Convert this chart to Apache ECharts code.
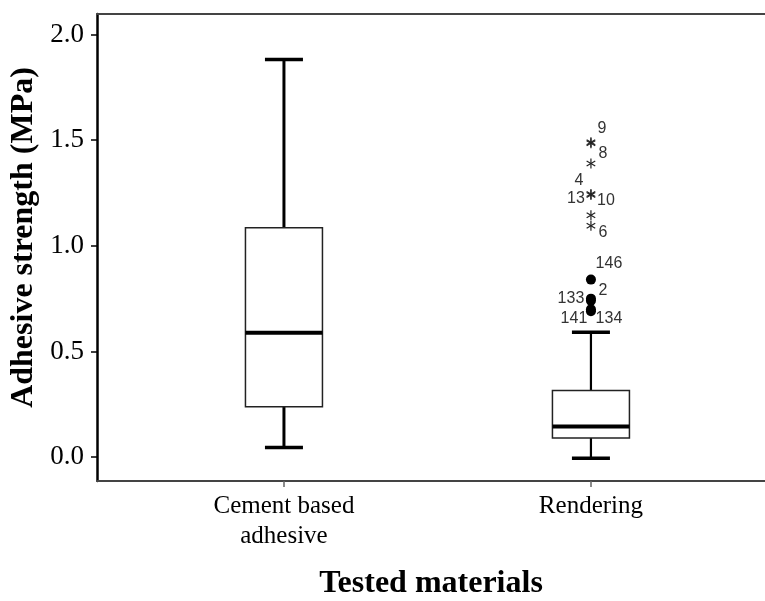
<!DOCTYPE html>
<html>
<head>
<meta charset="utf-8">
<script src="https://cdn.jsdelivr.net/npm/echarts@6.0.0/dist/echarts.min.js"></script>
<style>
  html, body { margin: 0; padding: 0; background: #fff; }
  #chart { width: 765px; height: 601px; }
</style>
</head>
<body>
<div id="chart"></div>
<script>
// categories (x positions 1 and 2 on the value axis)
var categories = ['Cement based\nadhesive', 'Rendering'];

// box statistics per category
var boxMin = [0.045, -0.005];
var boxQ1 = [0.238, 0.091];
var boxMedian = [0.588, 0.145];
var boxQ3 = [1.086, 0.315];
var boxMax = [1.882, 0.591];

// y tick labels
var yTicks = [0, 0.5, 1.0, 1.5, 2.0];

// outliers (circles) of Rendering
var outlierIds = ['146', '2', '133', '141', '134'];
var outlierValues = [0.84, 0.75, 0.74, 0.70, 0.69];

// extremes (stars) of Rendering
var extremeIds = ['9', '8', '4', '13', '10', '', '6'];
var extremeValues = [1.49, 1.485, 1.39, 1.245, 1.24, 1.145, 1.095];

// label offsets in pixels, by case id
var labelOffset = {
  '9': [11, -14], '8': [12, 10], '4': [-12, 17], '13': [-15, 5], '10': [15, 5], '6': [12, 7],
  '146': [18, -16], '2': [12, -8], '133': [-20, -2], '141': [-17, 9], '134': [18, 7]
};

var rendX = categories.indexOf('Rendering') + 1;
var serif = 'Liberation Serif, Times New Roman, serif';
var sans = 'Liberation Sans, Arial, sans-serif';

var myChart = echarts.init(document.getElementById('chart'));

var boxData = categories.map(function (c, i) {
  return [i + 1, boxMin[i], boxQ1[i], boxMedian[i], boxQ3[i], boxMax[i]];
});

function renderBox(params, api) {
  var x = api.value(0);
  var pMin = api.coord([x, api.value(1)]);
  var pQ1 = api.coord([x, api.value(2)]);
  var pMed = api.coord([x, api.value(3)]);
  var pQ3 = api.coord([x, api.value(4)]);
  var pMax = api.coord([x, api.value(5)]);
  var cx = pMed[0];
  var half = 38.5, cap = 19;
  // the rendering whisker is drawn a bit thinner in the source
  var wStyle = { stroke: '#000', lineWidth: params.dataIndex === 0 ? 3 : 2.2 };
  return {
    type: 'group',
    children: [
      { type: 'line', shape: { x1: cx, y1: pQ3[1], x2: cx, y2: pMax[1] }, style: wStyle },
      { type: 'line', shape: { x1: cx, y1: pQ1[1], x2: cx, y2: pMin[1] }, style: wStyle },
      { type: 'line', shape: { x1: cx - cap, y1: pMax[1], x2: cx + cap, y2: pMax[1] }, style: { stroke: '#000', lineWidth: 3.5 } },
      { type: 'line', shape: { x1: cx - cap, y1: pMin[1], x2: cx + cap, y2: pMin[1] }, style: { stroke: '#000', lineWidth: 3.5 } },
      { type: 'rect', shape: { x: cx - half, y: pQ3[1], width: half * 2, height: pQ1[1] - pQ3[1] },
        style: { fill: '#fff', stroke: '#222', lineWidth: 1.5 } },
      { type: 'line', shape: { x1: cx - half, y1: pMed[1], x2: cx + half, y2: pMed[1] }, style: { stroke: '#000', lineWidth: 4 } }
    ]
  };
}

function renderStar(params, api) {
  var p = api.coord([api.value(0), api.value(1)]);
  var id = extremeIds[params.dataIndex];
  var s = { stroke: '#222', lineWidth: 1.2 };
  var children = [
    { type: 'line', shape: { x1: p[0], y1: p[1] - 5, x2: p[0], y2: p[1] + 5 }, style: s },
    { type: 'line', shape: { x1: p[0] - 4.3, y1: p[1] - 2.5, x2: p[0] + 4.3, y2: p[1] + 2.5 }, style: s },
    { type: 'line', shape: { x1: p[0] - 4.3, y1: p[1] + 2.5, x2: p[0] + 4.3, y2: p[1] - 2.5 }, style: s }
  ];
  if (id) {
    var off = labelOffset[id] || [12, 0];
    children.push({
      type: 'text',
      x: p[0] + off[0], y: p[1] + off[1],
      style: { text: id, fill: '#333', font: '16px ' + sans, align: 'center', verticalAlign: 'middle' }
    });
  }
  return { type: 'group', children: children };
}

var option = {
  backgroundColor: '#fff',
  animation: false,
  grid: { left: 97, right: 0, top: 14, bottom: 120, outerBoundsMode: 'none' },
  xAxis: [{
    type: 'value',
    position: 'bottom',
    min: 0.391,
    max: 2.567,
    axisLine: { show: true, onZero: false, lineStyle: { color: '#444', width: 2 } },
    axisTick: { show: true, customValues: [1, 2], length: 6, lineStyle: { color: '#666', width: 1.5 } },
    axisLabel: {
      customValues: [1, 2],
      formatter: function (v) { return categories[Math.round(v) - 1]; },
      fontFamily: serif, fontSize: 25, color: '#000', lineHeight: 30, margin: 10
    },
    splitLine: { show: false },
    name: 'Tested materials',
    nameLocation: 'middle',
    nameGap: 87,
    nameTextStyle: { fontFamily: serif, fontWeight: 'bold', fontSize: 32, color: '#000' }
  }, {
    type: 'value',
    position: 'top',
    min: 0.391,
    max: 2.567,
    axisLine: { show: true, onZero: false, lineStyle: { color: '#444', width: 2 } },
    axisTick: { show: false },
    axisLabel: { show: false },
    splitLine: { show: false }
  }],
  yAxis: {
    type: 'value',
    min: -0.113,
    max: 2.097,
    axisLine: { show: true, onZero: false, lineStyle: { color: '#000', width: 2.5 } },
    axisTick: { show: true, customValues: yTicks, length: 6, lineStyle: { color: '#000', width: 1.5 } },
    axisLabel: {
      customValues: yTicks,
      formatter: function (v) { return v.toFixed(1); },
      fontFamily: serif, fontSize: 27, color: '#000', margin: 13
    },
    splitLine: { show: false },
    name: 'Adhesive strength (MPa)',
    nameLocation: 'middle',
    nameGap: 49,
    nameTextStyle: { fontFamily: serif, fontWeight: 'bold', fontSize: 32, color: '#000', padding: [0, 0, 0, 20] }
  },
  series: [{
    type: 'custom',
    name: 'box',
    renderItem: renderBox,
    encode: { x: 0, y: [1, 2, 3, 4, 5] },
    data: boxData,
    z: 2
  }, {
    type: 'scatter',
    name: 'outliers',
    symbol: 'circle',
    symbolSize: 10,
    itemStyle: { color: '#000', opacity: 1 },
    label: {
      show: true, position: 'inside', formatter: '{b}',
      color: '#333', fontSize: 16, fontFamily: sans
    },
    data: outlierValues.map(function (v, i) {
      return { name: outlierIds[i], value: [rendX, v], label: { offset: labelOffset[outlierIds[i]] } };
    }),
    z: 3
  }, {
    type: 'custom',
    name: 'extremes',
    renderItem: renderStar,
    encode: { x: 0, y: 1 },
    data: extremeValues.map(function (v) { return [rendX, v]; }),
    z: 3
  }]
};

myChart.setOption(option);
window.addEventListener('resize', function () {
  myChart && myChart.resize();
});
</script>
</body>
</html>
